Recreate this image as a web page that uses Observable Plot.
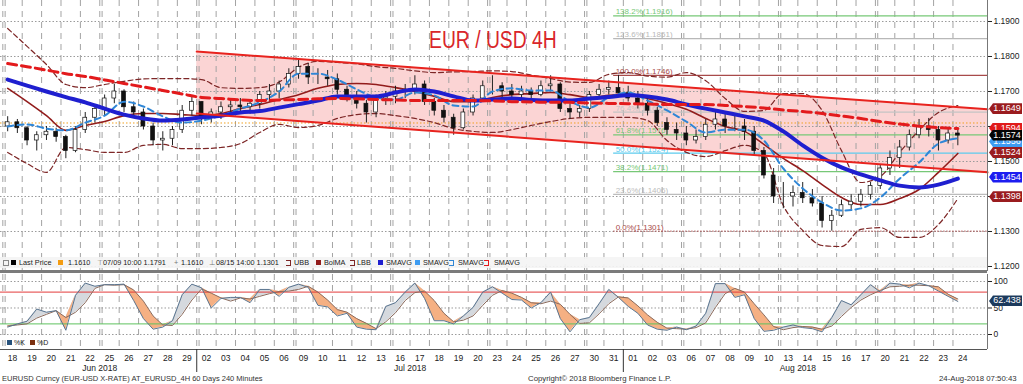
<!DOCTYPE html>
<html><head><meta charset="utf-8">
<script src="https://cdn.jsdelivr.net/npm/d3@7"></script>
<script src="https://cdn.jsdelivr.net/npm/@observablehq/plot@0.6"></script>
<style>
html,body{margin:0;padding:0;background:#fff;}
#root{position:relative;width:1023px;height:384px;overflow:hidden;font-family:"Liberation Sans",Arial,"DejaVu Sans",sans-serif;color:#222;}
.abs{position:absolute;white-space:nowrap;}
.tag{position:absolute;left:989px;width:33px;height:11px;line-height:11px;font-size:9px;color:#fff;text-align:center;padding-left:3px;box-sizing:border-box;clip-path:polygon(0 50%,4px 0,100% 0,100% 100%,4px 100%);}
</style></head><body><div id="root"></div>
<script>
// ---------- DATA ----------
const dayLabels = ["18","19","20","21","22","25","26","27","28","29","02","03","04","05","06","09","10","11","12","13","16","17","18","19","20","23","24","25","26","27","30","31","01","02","03","06","07","08","09","10","13","14","15","16","17","20","21","22","23","24"];
const mondays = [0,5,10,15,20,25,30,35,40,45];
const monthNames = ["Jun 2018","Jul 2018","Aug 2018"];
const monthFirstDay = [0,10,32];
const monthLastDay = [9,31,49];

// 12H bars (two per day), price
const barLow = [1.1585,1.1580,1.1545,1.1530,1.1560,1.1555,1.1508,1.1525,1.1580,1.1610,
1.1630,1.1665,1.1640,1.1625,1.1590,1.1545,1.1530,1.1545,1.1580,1.1630,
1.1605,1.1610,1.1620,1.1630,1.1640,1.1635,1.1650,1.1670,1.1680,1.1710,
1.1735,1.1720,1.1720,1.1715,1.1690,1.1670,1.1650,1.1610,1.1625,1.1660,
1.1665,1.1680,1.1690,1.1660,1.1630,1.1610,1.1575,1.1590,1.1630,1.1670,
1.1690,1.1680,1.1675,1.1680,1.1670,1.1685,1.1700,1.1640,1.1620,1.1625,
1.1640,1.1680,1.1690,1.1690,1.1670,1.1650,1.1630,1.1600,1.1575,1.1560,
1.1545,1.1550,1.1560,1.1590,1.1580,1.1585,1.1560,1.1520,1.1450,1.1380,
1.1365,1.1370,1.1380,1.1370,1.1310,1.1301,1.1340,1.1360,1.1370,1.1390,
1.1420,1.1460,1.1480,1.1530,1.1565,1.1570,1.1530,1.1550,1.1545];
const barHigh = [1.1628,1.1620,1.1600,1.1585,1.1600,1.1595,1.1575,1.1600,1.1640,1.1660,
1.1690,1.1720,1.1705,1.1670,1.1650,1.1610,1.1585,1.1600,1.1660,1.1685,
1.1670,1.1650,1.1670,1.1675,1.1680,1.1675,1.1700,1.1720,1.1730,1.1765,
1.1791,1.1780,1.1765,1.1760,1.1750,1.1715,1.1700,1.1675,1.1690,1.1700,
1.1715,1.1720,1.1745,1.1730,1.1680,1.1660,1.1635,1.1650,1.1690,1.1730,
1.1745,1.1725,1.1720,1.1715,1.1710,1.1730,1.1745,1.1725,1.1665,1.1660,
1.1700,1.1720,1.1730,1.1746,1.1715,1.1700,1.1680,1.1655,1.1625,1.1610,
1.1600,1.1590,1.1620,1.1640,1.1635,1.1630,1.1620,1.1600,1.1540,1.1480,
1.1440,1.1430,1.1440,1.1420,1.1400,1.1360,1.1390,1.1405,1.1420,1.1440,
1.1490,1.1530,1.1560,1.1590,1.1620,1.1623,1.1600,1.1595,1.1590];
const barClose = [1.1612,1.1595,1.1560,1.1575,1.1585,1.1570,1.1530,1.1590,1.1625,1.1650,
1.1680,1.1700,1.1655,1.1640,1.1600,1.1560,1.1565,1.1590,1.1645,1.1670,
1.1625,1.1640,1.1655,1.1660,1.1655,1.1665,1.1690,1.1700,1.1720,1.1750,
1.1770,1.1740,1.1740,1.1735,1.1705,1.1685,1.1665,1.1640,1.1680,1.1685,
1.1700,1.1705,1.1720,1.1670,1.1645,1.1625,1.1595,1.1640,1.1680,1.1715,
1.1715,1.1700,1.1690,1.1700,1.1690,1.1715,1.1720,1.1650,1.1640,1.1650,
1.1690,1.1705,1.1710,1.1695,1.1680,1.1665,1.1645,1.1610,1.1590,1.1580,
1.1560,1.1570,1.1605,1.1620,1.1600,1.1600,1.1585,1.1530,1.1460,1.1400,
1.1400,1.1410,1.1395,1.1380,1.1330,1.1345,1.1375,1.1385,1.1405,1.1430,
1.1480,1.1510,1.1540,1.1575,1.1600,1.1590,1.1560,1.1580,1.1574];
const firstOpen = 1.1600;

// studies, one value per day
const smaThickBlue = [1.1734,1.1717,1.1700,1.1684,1.1669,1.1651,1.1634,1.1623,1.1617,1.1620,1.1626,1.1631,1.1640,1.1644,1.1654,1.1664,1.1674,1.1686,1.1686,1.1686,1.1697,1.1706,1.1700,1.1686,1.1674,1.1677,1.1680,1.1676,1.1674,1.1674,1.1680,1.1684,1.1689,1.1686,1.1677,1.1663,1.1651,1.1640,1.1629,1.1617,1.1586,1.1546,1.1511,1.1483,1.1463,1.1446,1.1431,1.1426,1.1434,1.1451];
const smaRedDashed = [1.1780,1.1771,1.1761,1.1751,1.1743,1.1733,1.1723,1.1713,1.1703,1.1693,1.1683,1.1680,1.1676,1.1674,1.1676,1.1677,1.1679,1.1680,1.1679,1.1677,1.1676,1.1674,1.1674,1.1674,1.1674,1.1673,1.1671,1.1670,1.1669,1.1669,1.1667,1.1666,1.1665,1.1664,1.1663,1.1663,1.1663,1.1660,1.1657,1.1653,1.1647,1.1643,1.1637,1.1630,1.1623,1.1614,1.1607,1.1601,1.1597,1.1594];
const bolMA = [1.1709,1.1671,1.1631,1.1589,1.1603,1.1614,1.1631,1.1637,1.1637,1.1634,1.1631,1.1637,1.1651,1.1663,1.1677,1.1691,1.1709,1.1720,1.1723,1.1720,1.1711,1.1700,1.1686,1.1671,1.1671,1.1683,1.1691,1.1694,1.1697,1.1691,1.1683,1.1689,1.1694,1.1680,1.1666,1.1649,1.1623,1.1600,1.1586,1.1549,1.1509,1.1474,1.1434,1.1397,1.1377,1.1377,1.1394,1.1420,1.1469,1.1523];
const upperBand = [1.1880,1.1829,1.1777,1.1720,1.1711,1.1720,1.1729,1.1736,1.1737,1.1737,1.1734,1.1711,1.1709,1.1711,1.1727,1.1769,1.1786,1.1783,1.1779,1.1771,1.1766,1.1759,1.1754,1.1756,1.1757,1.1759,1.1757,1.1747,1.1737,1.1727,1.1726,1.1749,1.1754,1.1744,1.1741,1.1754,1.1731,1.1680,1.1643,1.1646,1.1694,1.1694,1.1646,1.1531,1.1440,1.1457,1.1526,1.1589,1.1640,1.1660];
const lowerBand = [1.1526,1.1494,1.1469,1.1540,1.1534,1.1526,1.1526,1.1546,1.1549,1.1537,1.1537,1.1540,1.1551,1.1583,1.1606,1.1597,1.1603,1.1623,1.1634,1.1637,1.1631,1.1623,1.1611,1.1594,1.1586,1.1583,1.1591,1.1603,1.1614,1.1623,1.1626,1.1626,1.1626,1.1617,1.1560,1.1526,1.1514,1.1531,1.1546,1.1523,1.1374,1.1303,1.1260,1.1257,1.1306,1.1311,1.1283,1.1283,1.1320,1.1394];
const smaLightBlue = [1.1600,1.1606,1.1594,1.1589,1.1611,1.1631,1.1671,1.1657,1.1629,1.1611,1.1617,1.1631,1.1651,1.1669,1.1700,1.1751,1.1751,1.1734,1.1706,1.1683,1.1677,1.1697,1.1689,1.1660,1.1657,1.1700,1.1709,1.1703,1.1703,1.1671,1.1654,1.1683,1.1697,1.1674,1.1646,1.1614,1.1583,1.1591,1.1591,1.1560,1.1480,1.1423,1.1383,1.1360,1.1366,1.1397,1.1451,1.1497,1.1551,1.1566];

// channel (start at Jul 02) and fibonacci levels
const channelStartDay = 10;
const channelUpper = [1.1814, 1.1649];
const channelLower = [1.1637, 1.1469];
const fibAnchorBar = 63;
const fibLabels = ["138.2%(1.1916)","123.6%(1.1851)","100.0%(1.1746)","76.4%(1.1641)","61.8%(1.1576)","50.0%(1.1524)","38.2%(1.1471)","23.6%(1.1406)","0.0%(1.1301)"];
const fibValues = [1.1916,1.1851,1.1746,1.1641,1.1576,1.1524,1.1471,1.1406,1.1301];
const fibColors = ["#77c877","#b8b8b8","#a84a4a","#c4c4c4","#77c877","#5ccbee","#77c877","#bcbcbc","#a84a4a"];
const lastPriceLine = 1.1610;

const priceTicks = [1.12,1.13,1.14,1.15,1.16,1.17,1.18,1.19];
const tagValues = [1.1594,1.1556,1.1649,1.1574,1.1524,1.1454,1.1398];
const tagTexts = ["1.1594","1.1556","1.1649","1.1574","1.1524","1.1454","1.1398"];
const tagColors = ["#e01b1b","#3d9cf2","#9a1c1f","#050505","#9a1c1f","#1d1df0","#9a1c1f"];

// stochastic %K / %D per 12H bar
const stochK = [14,20,25,48,42,45,8,74,97,91,94,94,95,64,30,10,14,26,75,95,88,50,68,70,70,60,85,85,72,89,95,89,55,52,35,40,14,10,9,53,60,80,97,68,26,26,20,35,51,80,90,78,66,65,50,60,80,30,5,28,32,58,85,70,53,40,18,10,8,14,9,16,40,96,96,70,75,30,6,8,14,18,13,11,5,32,64,56,75,94,80,97,95,88,97,92,82,72,62.4];
const stochD = [16,18,20,31,38,45,32,42,60,87,94,93,94,84,63,35,18,17,38,65,86,78,69,63,69,67,72,77,81,82,85,91,80,65,47,42,30,21,11,24,41,64,79,82,64,40,24,27,35,55,74,83,78,70,60,58,63,57,38,21,22,39,58,71,69,54,37,23,12,11,10,13,22,51,77,87,80,58,37,15,9,13,15,14,10,16,34,51,65,75,83,90,91,93,93,92,90,76,67];
const oscTicks = [100,50,0];
const oscLastText = "62.438";

// ---------- LAYOUT ----------
const W = 1023, RM = 36;
const xMin = -0.74, xMax = 101.06;
const yMainDomain = [1.11857, 1.196];
const oscDomain = [-28.3, 113.2];
const FONT = "Liberation Sans, Arial, sans-serif";
const root = document.getElementById("root");

const dayX = d => 2*d + 0.5;              // day centre in bar units
const dayStart = d => 2*d - 0.5;          // day boundary
const bars = barClose.map((c,i)=>({i, low:barLow[i], high:barHigh[i], close:c, open: i ? barClose[i-1] : firstOpen}));
const perDay = arr => arr.map((v,k)=>({i:2*k, v}));
const gridX = dayLabels.map((_,d)=>dayStart(d)).concat(mondays.map(d=>dayStart(d)+0.24));
const chan = [{i:dayStart(channelStartDay), lo:channelLower[0], hi:channelUpper[0]},{i:xMax, lo:channelLower[1], hi:channelUpper[1]}];
const fibs = fibValues.map((v,j)=>({v, label:fibLabels[j], c:fibColors[j], dotted: j===fibValues.length-1}));
const fibStart = fibAnchorBar - 0.5;

const main = Plot.plot({
  width: W, height: 271, marginLeft: 0, marginRight: RM, marginTop: 0, marginBottom: 0,
  x: {domain: [xMin, xMax], axis: null, label: null},
  y: {domain: yMainDomain, axis: null, label: null},
  color: {type: "identity"},
  style: {background: "transparent", fontFamily: FONT, color: "#222", overflow: "visible"},
  marks: [
    Plot.areaY(chan, {x: "i", y1: "lo", y2: "hi", fill: "#fbd4d4"}),
    Plot.ruleY(priceTicks, {stroke: "#9a9a9a", strokeDasharray: "1.5,2"}),
    Plot.ruleX(gridX, {stroke: "#a3a3a3", strokeDasharray: "6,5"}),
    Plot.ruleY([lastPriceLine], {stroke: "#f0a020", strokeDasharray: "1.5,2"}),
    Plot.ruleY(fibs.filter(f=>!f.dotted), {y: "v", x1: () => fibStart, x2: () => xMax, stroke: "c", strokeWidth: 1.2}),
    Plot.ruleY(fibs.filter(f=>f.dotted), {y: "v", x1: () => fibStart, x2: () => xMax, stroke: "c", strokeDasharray: "1.5,1.5"}),
    Plot.text(fibs, {x: () => fibStart, y: "v", text: "label", fill: "c", textAnchor: "start", dx: 2, dy: -4, fontSize: 8}),
    Plot.line(perDay(upperBand), {x: "i", y: "v", stroke: "#7d2626", strokeWidth: 1.2, strokeDasharray: "5,3", curve: "monotone-x"}),
    Plot.line(perDay(lowerBand), {x: "i", y: "v", stroke: "#7d2626", strokeWidth: 1.2, strokeDasharray: "5,3", curve: "monotone-x"}),
    Plot.line(perDay(bolMA), {x: "i", y: "v", stroke: "#921c1c", strokeWidth: 1.6, curve: "monotone-x"}),
    Plot.ruleX(bars, {x: "i", y1: "low", y2: "high", stroke: "#222", strokeWidth: 1}),
    Plot.rect(bars, {x1: d => d.i - 0.2, x2: d => d.i + 0.2, y1: "open", y2: "close", fill: d => d.close >= d.open ? "#fff" : "#111", stroke: "#111", strokeWidth: 0.7}),
    Plot.line(perDay(smaLightBlue), {x: "i", y: "v", stroke: "#2f86d6", strokeWidth: 2, strokeDasharray: "6,4", curve: "monotone-x"}),
    Plot.line(perDay(smaThickBlue), {x: "i", y: "v", stroke: "#1f1fcf", strokeWidth: 4, curve: "monotone-x"}),
    Plot.line(perDay(smaRedDashed), {x: "i", y: "v", stroke: "#e31a1c", strokeWidth: 3, strokeDasharray: "9,5", curve: "monotone-x"}),
    Plot.line(chan, {x: "i", y: "hi", stroke: "#e8231e", strokeWidth: 2}),
    Plot.line(chan, {x: "i", y: "lo", stroke: "#e8231e", strokeWidth: 2}),
    Plot.ruleX([xMax], {stroke: "#777"}),
    Plot.axisY({anchor: "right", label: null, ticks: priceTicks, tickFormat: d3.format(".4f"), tickSize: 4, tickPadding: 2, fontSize: 8.5})
  ]
});
main.style.position = "absolute"; main.style.left = "0px"; main.style.top = "0px";
root.appendChild(main);

const osc = stochK.map((k,i)=>({i, k, d: stochD[i]}));
const monthTicks = monthNames.map((_,j)=>monthFirstDay[j] + monthLastDay[j] + 0.5);
const lower = Plot.plot({
  width: W, height: 101, marginLeft: 0, marginRight: RM, marginTop: 3, marginBottom: 23,
  x: {domain: [xMin, xMax], axis: null, label: null},
  y: {domain: oscDomain, axis: null, label: null},
  style: {background: "transparent", fontFamily: FONT, color: "#222", overflow: "visible"},
  marks: [
    Plot.ruleX(gridX, {stroke: "#a3a3a3", strokeDasharray: "6,5"}),
    Plot.ruleY(oscTicks, {stroke: "#9a9a9a", strokeDasharray: "1.5,2"}),
    Plot.areaY(osc, {x: "i", y1: "d", y2: d => Math.max(d.k, d.d), fill: "#d5d9de"}),
    Plot.areaY(osc, {x: "i", y1: "k", y2: d => Math.max(d.k, d.d), fill: "#f5b083"}),
    Plot.ruleY([80], {stroke: "#e33b3b"}),
    Plot.ruleY([20], {stroke: "#5fc25f"}),
    Plot.line(osc, {x: "i", y: "d", stroke: "#8a6a5c", strokeWidth: 1}),
    Plot.line(osc, {x: "i", y: "k", stroke: "#5a7590", strokeWidth: 1}),
    Plot.ruleX([xMax], {stroke: "#777"}),
    Plot.ruleY([oscDomain[0]], {stroke: "#555"}),
    Plot.axisY({anchor: "right", label: null, ticks: oscTicks, tickSize: 4, tickPadding: 2, fontSize: 8.5}),
    Plot.axisX({anchor: "bottom", label: null, ticks: dayLabels.map((_,d)=>dayX(d)), tickFormat: v => dayLabels[Math.round((v-0.5)/2)], tickSize: 0, tickPadding: 5, fontSize: 8.5}),
    Plot.axisX({anchor: "bottom", label: null, ticks: monthTicks, tickFormat: v => monthNames[monthTicks.indexOf(v)], tickSize: 0, tickPadding: 15, fontSize: 8.5}),
    Plot.axisX({anchor: "bottom", label: null, ticks: [dayStart(monthFirstDay[1]), dayStart(monthFirstDay[2])], tickFormat: () => "", tickSize: 23, stroke: "#333"})
  ]
});
lower.style.position = "absolute"; lower.style.left = "0px"; lower.style.top = "271px";
root.appendChild(lower);

// ---------- overlays ----------
function div(style, text){ const d = document.createElement("div"); d.className = "abs"; Object.assign(d.style, style); if (text != null) d.textContent = text; root.appendChild(d); return d; }

// separator
div({left:"0px", top:"270px", width:"987px", height:"3px", background:"#7b7b7b"});

// title
div({left:"429px", top:"29px", fontSize:"23px", lineHeight:"23px", color:"#d9262a", transform:"scaleX(0.84)", transformOrigin:"0 0", fontFamily:FONT}, "EUR / USD 4H");

// right-axis tags
const ys = main.scale("y");
tagValues.forEach((v,j)=>{
  const d = document.createElement("div"); d.className = "tag";
  d.style.top = (ys.apply(v) - 5.5) + "px"; d.style.background = tagColors[j]; d.textContent = tagTexts[j];
  root.appendChild(d);
});
const yo = lower.scale("y");
{ const d = document.createElement("div"); d.className = "tag";
  d.style.top = (271 + yo.apply(stochK[stochK.length-1]) - 5.5) + "px"; d.style.background = "#1c3a5c"; d.textContent = oscLastText; root.appendChild(d); }

// legend row
div({left:"0px", top:"257px", width:"987px", height:"11px", background:"rgba(244,244,244,0.92)"});
const LY = 263;
function sq(x, c){ div({left:x+"px", top:(LY-3)+"px", width:"5px", height:"5px", background:c}); }
function ico(x, c){ div({left:x+"px", top:(LY-3)+"px", width:"4px", height:"4px", border:"1px dashed "+c, borderLeft:"none"}); }
function txt(x, s, c){ div({left:x+"px", top:(LY-5)+"px", fontSize:"7.3px", lineHeight:"10px", color:c||"#222"}, s); }
div({left:"3px", top:(LY-3)+"px", width:"4px", height:"4px", border:"1px solid #888"});
sq(11,"#000"); txt(19,"Last Price");
sq(58,"#f39c12"); txt(68,"1.1610");
txt(97,"\u22A4","#777"); txt(103,"07/09 10:00 1.1791");
txt(174,"+","#777"); txt(181,"1.1610");
txt(209,"\u22A5","#777"); txt(216,"08/15 14:00 1.1301");
ico(286,"#7d2626"); txt(294,"UBB");
sq(316,"#921c1c"); txt(324,"BolMA");
ico(350,"#7d2626"); txt(357,"LBB");
sq(378,"#1f1fcf"); txt(386,"SMAVG");
sq(415,"#3d9cf2"); txt(423,"SMAVG");
ico(449,"#2f86d6"); txt(458,"SMAVG");
ico(484,"#e31a1c"); txt(494,"SMAVG");

// oscillator legend
div({left:"7px", top:"340px", width:"5px", height:"5px", background:"#27527c"});
div({left:"14px", top:"338px", fontSize:"7px", lineHeight:"10px"}, "%K");
div({left:"30px", top:"340px", width:"5px", height:"5px", background:"#7b3010"});
div({left:"37px", top:"338px", fontSize:"7px", lineHeight:"10px"}, "%D");

// footer
div({left:"2px", top:"374px", fontSize:"7.5px", lineHeight:"10px", color:"#333"}, "EURUSD Curncy (EUR-USD X-RATE) AT_EURUSD_4H 60 Days 240 Minutes");
div({left:"528px", top:"374px", fontSize:"7.8px", lineHeight:"10px", color:"#333"}, "Copyright\u00A9 2018 Bloomberg Finance L.P.");
div({left:"939px", top:"374px", fontSize:"7.8px", lineHeight:"10px", color:"#333"}, "24-Aug-2018 07:50:43");
</script></body></html>
